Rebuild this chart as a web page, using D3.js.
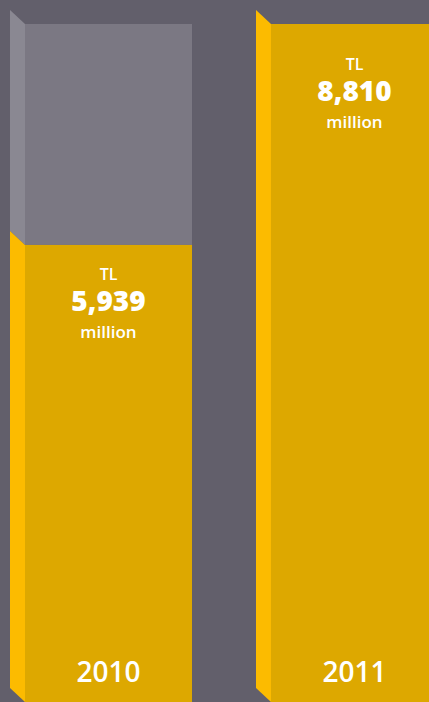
<!DOCTYPE html>
<html>
<head>
<meta charset="utf-8">
<script src="https://cdn.jsdelivr.net/npm/d3@7"></script>
<style>
  html, body { margin: 0; padding: 0; background: #625f6b; }
  svg { display: block; }
</style>
</head>
<body>
<svg id="chart" width="429" height="702"></svg>
<script>
// Revenue per year, TL million
const years = ["2010", "2011"];
const values = [5939, 8810];
const currencyLabel = "TL";
const unitLabel = "million";

const W = 429, H = 702;
const depthX = 15, depthY = 14;

const colors = {
  background: "#625f6b",
  front: "#dda800",
  side: "#fcbb00",
  ghostFront: "#7b7883",
  ghostSide: "#8a8892"
};

const svg = d3.select("#chart");
svg.append("rect").attr("width", W).attr("height", H).attr("fill", colors.background);

const maxValue = d3.max(values);

const x = d3.scaleBand()
  .domain(years)
  .range([25, 438])
  .paddingInner(0.3211)
  .paddingOuter(0);

const y = d3.scaleLinear()
  .domain([0, maxValue])
  .range([H, 24]);

const fmt = d3.format(",");

// Draws a pseudo-3D column: a front face plus a slanted left side face
function column(g, x0, w, yTop, yBottom, front, side) {
  g.append("path")
    .attr("d", `M${x0 - depthX},${yTop - depthY}L${x0},${yTop}L${x0},${yBottom}L${x0 - depthX},${yBottom - depthY}Z`)
    .attr("fill", side);
  g.append("rect")
    .attr("x", x0).attr("y", yTop)
    .attr("width", w).attr("height", yBottom - yTop)
    .attr("fill", front);
}

const data = years.map((yr, i) => ({ year: yr, value: values[i] }));

const bars = svg.selectAll("g.bar")
  .data(data)
  .join("g")
  .attr("class", "bar");

bars.each(function(d) {
  const g = d3.select(this);
  const x0 = x(d.year);
  const w = x.bandwidth();
  // grey remainder up to the largest year's level
  if (d.value < maxValue) {
    column(g, x0, w, y(maxValue), y(d.value), colors.ghostFront, colors.ghostSide);
  }
  column(g, x0, w, y(d.value), H, colors.front, colors.side);

  const cx = x0 + w / 2;
  const top = y(d.value) + (d.value === maxValue ? 9 : -2);

  g.append("text")
    .attr("x", cx).attr("y", top + 37)
    .attr("text-anchor", "middle")
    .attr("fill", "#fff")
    .style("font-family", "'Open Sans', sans-serif")
    .style("font-weight", 600)
    .style("font-size", "16px")
    .text(currencyLabel);

  g.append("text")
    .attr("x", cx).attr("y", top + 68)
    .attr("text-anchor", "middle")
    .attr("fill", "#fff")
    .style("font-family", "'Open Sans', sans-serif")
    .style("font-weight", 800)
    .style("font-size", "28px")
    .text(fmt(d.value));

  g.append("text")
    .attr("x", cx).attr("y", top + 95)
    .attr("text-anchor", "middle")
    .attr("fill", "#fff")
    .style("font-family", "'Open Sans', sans-serif")
    .style("font-weight", 600)
    .style("font-size", "17px")
    .text(unitLabel);

  g.append("text")
    .attr("x", cx).attr("y", 682)
    .attr("text-anchor", "middle")
    .attr("fill", "#fff")
    .style("font-family", "'Open Sans', sans-serif")
    .style("font-weight", 600)
    .style("font-size", "28px")
    .text(d.year);
});
</script>
</body>
</html>
